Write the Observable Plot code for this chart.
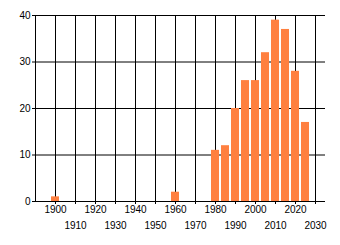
<!DOCTYPE html>
<html>
<head>
<meta charset="utf-8">
<script src="https://cdn.jsdelivr.net/npm/d3@7"></script>
<script src="https://cdn.jsdelivr.net/npm/@observablehq/plot@0.6"></script>
<style>
  html, body { margin: 0; padding: 0; background: #fff; }
</style>
</head>
<body>
<div id="chart"></div>
<script>
const years  = [1900, 1960, 1980, 1985, 1990, 1995, 2000, 2005, 2010, 2015, 2020, 2025];
const counts = [1, 2, 11, 12, 20, 26, 26, 32, 39, 37, 28, 17];
const xTicksTop    = [1900, 1920, 1940, 1960, 1980, 2000, 2020];
const xTicksBottom = [1910, 1930, 1950, 1970, 1990, 2010, 2030];
const xGrid = [1900, 1910, 1920, 1930, 1940, 1950, 1960, 1970, 1980, 1990, 2000, 2010, 2020, 2030];
const yTicks = [0, 10, 20, 30, 40];

const data = years.map((y, i) => ({year: y, value: counts[i]}));

const chart = Plot.plot({
  width: 340,
  height: 245,
  marginLeft: 35,
  marginRight: 15,
  marginTop: 15,
  marginBottom: 44,
  x: {domain: [1890, 2035], label: null},
  y: {domain: [0, 40], label: null},
  style: {fontFamily: "'Liberation Sans', Arial, sans-serif", fontSize: "10px", color: "#000", background: "#fff"},
  marks: [
    Plot.ruleY(yTicks, {stroke: "#000"}),
    Plot.ruleX(xGrid, {stroke: "#000"}),
    Plot.ruleX([1890], {stroke: "#000"}),
    Plot.rectY(data, {x1: d => d.year - 2, x2: d => d.year + 2, y: "value", fill: "#FF8040"}),
    Plot.axisY(yTicks, {tickSize: 3, tickPadding: 2, label: null, tickFormat: d => String(d)}),
    Plot.axisX(xTicksTop, {tickSize: 3, tickPadding: 1, label: null, tickFormat: d => String(d)}),
    Plot.axisX(xTicksBottom, {tickSize: 3, tickPadding: 17, label: null, tickFormat: d => String(d)})
  ]
});
document.getElementById("chart").appendChild(chart);
</script>
</body>
</html>
